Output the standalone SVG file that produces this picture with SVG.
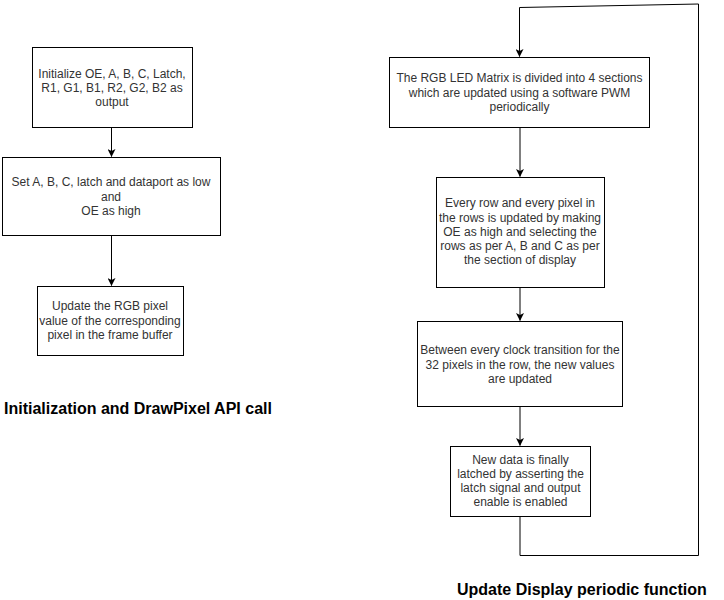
<svg xmlns="http://www.w3.org/2000/svg" width="724" height="600" viewBox="0 0 724 600">
<defs>
<style>
.box{fill:#ffffff;stroke:#000000;stroke-width:1}
.t{font-family:"Liberation Sans",Arial,Helvetica,sans-serif;font-size:12px;fill:#333333;text-anchor:middle}
.title{font-family:"Liberation Sans",Arial,Helvetica,sans-serif;font-size:16px;font-weight:bold;fill:#000000}
.edge{fill:none;stroke:#000000;stroke-width:1}
</style>
<marker id="arr" viewBox="0 0 8 8" refX="7.5" refY="4" markerWidth="8" markerHeight="8" markerUnits="userSpaceOnUse" orient="auto">
<path d="M0,0 L8,4 L0,8 L2,4 Z" fill="#000000"/>
</marker>
</defs>
<rect width="724" height="600" fill="#ffffff"/>

<g id="connectors">
<line class="edge" x1="111.5" y1="127" x2="111.5" y2="156.5" marker-end="url(#arr)"/>
<line class="edge" x1="111.5" y1="235" x2="111.5" y2="285.5" marker-end="url(#arr)"/>
<line class="edge" x1="520" y1="127" x2="520" y2="176.5" marker-end="url(#arr)"/>
<line class="edge" x1="520" y1="287" x2="520" y2="320.5" marker-end="url(#arr)"/>
<line class="edge" x1="520" y1="406" x2="520" y2="445.5" marker-end="url(#arr)"/>
<path class="edge" d="M520,516 L520,555.5 L698.5,555.5 L698.5,4 L519.5,7.5 L519.5,56.5" marker-end="url(#arr)"/>
</g>

<g id="n1">
<rect class="box" x="32.5" y="47.5" width="160" height="80"/>
<text class="t" x="112" y="77.5">Initialize OE, A, B, C, Latch,</text>
<text class="t" x="112" y="91.5">R1, G1, B1, R2, G2, B2 as</text>
<text class="t" x="112" y="105.5">output</text>
</g>

<g id="n2">
<rect class="box" x="2.5" y="157.5" width="218" height="78"/>
<text class="t" x="111" y="186">Set A, B, C, latch and dataport as low</text>
<text class="t" x="111" y="200.5">and</text>
<text class="t" x="111" y="215">OE as high</text>
</g>

<g id="n3">
<rect class="box" x="37.5" y="286.5" width="146" height="69"/>
<text class="t" x="110" y="310">Update the RGB pixel</text>
<text class="t" x="110" y="324.5">value of the corresponding</text>
<text class="t" x="110" y="339">pixel in the frame buffer</text>
</g>

<text id="title1" class="title" x="4" y="414">Initialization and DrawPixel API call</text>

<g id="n4">
<rect class="box" x="389.5" y="57.5" width="260" height="70"/>
<text class="t" x="519.5" y="82">The RGB LED Matrix is divided into 4 sections</text>
<text class="t" x="519.5" y="96.5">which are updated using a software PWM</text>
<text class="t" x="519.5" y="111">periodically</text>
</g>

<g id="n5">
<rect class="box" x="436.5" y="177.5" width="168" height="110"/>
<text class="t" x="520" y="207">Every row and every pixel in</text>
<text class="t" x="520" y="221.5">the rows is updated by making</text>
<text class="t" x="520" y="235.5">OE as high and selecting the</text>
<text class="t" x="520" y="250">rows as per A, B and C as per</text>
<text class="t" x="520" y="264">the section of display</text>
</g>

<g id="n6">
<rect class="box" x="417.5" y="321.5" width="205" height="85"/>
<text class="t" x="520" y="354">Between every clock transition for the</text>
<text class="t" x="520" y="368.5">32 pixels in the row, the new values</text>
<text class="t" x="520" y="382.5">are updated</text>
</g>

<g id="n7">
<rect class="box" x="450.5" y="446.5" width="140" height="70"/>
<text class="t" x="520.5" y="463.5">New data is finally</text>
<text class="t" x="520.5" y="477.5">latched by asserting the</text>
<text class="t" x="520.5" y="491.5">latch signal and output</text>
<text class="t" x="520.5" y="506">enable is enabled</text>
</g>

<text id="title2" class="title" x="457" y="595">Update Display periodic function</text>
</svg>
